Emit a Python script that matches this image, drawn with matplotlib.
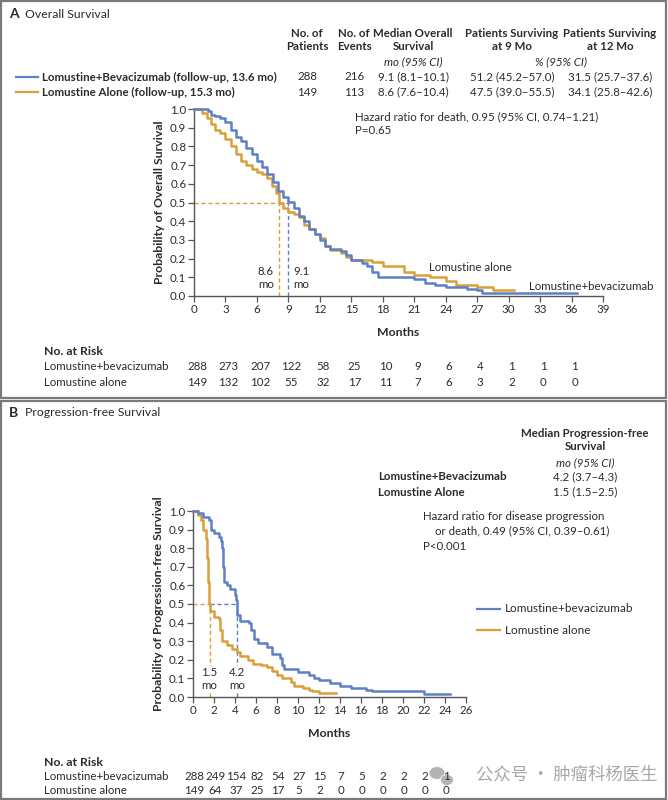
import matplotlib
matplotlib.use('Agg')
import matplotlib.pyplot as plt
import matplotlib.transforms as mtransforms
from matplotlib.patches import Rectangle, Ellipse

plt.rcParams['font.family'] = ['Lato', 'DejaVu Sans']

BLUE = '#5f80c4'
ORANGE = '#d9a03a'
TXT = '#2b2b2b'
AX = '#555555'

# ---- data: overall survival (panel A) ----
os_bev_t = [0, 1.3, 1.6, 2.0, 2.5, 3.0, 3.5, 4.0, 4.5, 5.0, 5.5, 6.0, 6.5, 7.0, 7.5, 8.0, 8.5,
            9.0, 9.5, 10.0, 10.5, 11.0, 11.5, 12.0, 12.5, 13.0, 14.0, 14.5, 15.0, 16.0, 16.5,
            17.0, 17.5, 21.0, 22.0, 23.0, 24.0, 26.0, 27.0, 27.5, 36.5]
os_bev_s = [1.0, 0.99, 0.97, 0.96, 0.95, 0.93, 0.89, 0.85, 0.83, 0.79, 0.76, 0.72, 0.69, 0.65,
            0.61, 0.56, 0.53, 0.505, 0.47, 0.43, 0.40, 0.36, 0.33, 0.30, 0.27, 0.25, 0.24, 0.22,
            0.19, 0.175, 0.16, 0.13, 0.10, 0.09, 0.07, 0.06, 0.05, 0.04, 0.03, 0.015, 0.015]
os_alone_t = [0, 0.8, 1.2, 1.6, 2.0, 2.5, 3.0, 3.5, 4.0, 4.5, 5.0, 5.5, 6.0, 6.5, 7.0, 7.4, 7.8,
              8.1, 8.5, 9.0, 9.5, 10.0, 10.5, 11.0, 11.5, 12.0, 12.5, 13.0, 14.0, 14.5, 15.0,
              17.0, 18.0, 20.0, 21.0, 22.5, 24.0, 25.0, 27.0, 28.5, 30.5]
os_alone_s = [1.0, 0.98, 0.95, 0.92, 0.89, 0.87, 0.84, 0.80, 0.76, 0.72, 0.70, 0.68, 0.665, 0.65,
              0.63, 0.59, 0.55, 0.50, 0.47, 0.45, 0.44, 0.42, 0.38, 0.36, 0.33, 0.31, 0.27, 0.245,
              0.23, 0.21, 0.19, 0.18, 0.16, 0.13, 0.11, 0.10, 0.08, 0.06, 0.05, 0.03, 0.03]
os_median_bev, os_median_alone = 9.0, 8.1

os_risk_months = [0, 3, 6, 9, 12, 15, 18, 21, 24, 27, 30, 33, 36]
os_risk_bev = [288, 273, 207, 122, 58, 25, 10, 9, 6, 4, 1, 1, 1]
os_risk_alone = [149, 132, 102, 55, 32, 17, 11, 7, 6, 3, 2, 0, 0]

os_cols = ['No. of\nPatients', 'No. of\nEvents', 'Median Overall\nSurvival',
           'Patients Surviving\nat 9 Mo', 'Patients Surviving\nat 12 Mo']
os_row_bev = ['288', '216', '9.1 (8.1\u201310.1)', '51.2 (45.2\u201357.0)', '31.5 (25.7\u201337.6)']
os_row_alone = ['149', '113', '8.6 (7.6\u201310.4)', '47.5 (39.0\u201355.5)', '34.1 (25.8\u201342.6)']

# ---- data: progression-free survival (panel B) ----
pfs_bev_t = [0, 0.5, 1.0, 1.5, 1.7, 2.0, 2.5, 2.7, 2.8, 2.9, 3.0, 3.2, 3.5, 4.0, 4.1, 4.2, 4.5,
             5.3, 5.5, 5.8, 6.2, 7.0, 7.5, 8.3, 8.5, 8.7, 10.0, 11.0, 11.5, 12.0, 13.0, 14.0,
             15.0, 16.5, 17.0, 22.0, 24.5]
pfs_bev_s = [1.0, 0.99, 0.97, 0.95, 0.90, 0.88, 0.86, 0.84, 0.80, 0.70, 0.62, 0.60, 0.58, 0.55,
             0.52, 0.44, 0.41, 0.40, 0.36, 0.31, 0.29, 0.27, 0.23, 0.21, 0.17, 0.15, 0.135, 0.12,
             0.10, 0.09, 0.075, 0.06, 0.05, 0.04, 0.03, 0.015, 0.015]
pfs_alone_t = [0, 0.5, 0.8, 1.0, 1.2, 1.3, 1.4, 1.5, 1.6, 2.0, 2.5, 2.6, 2.8, 3.2, 3.7, 4.2, 4.5,
               5.2, 5.7, 6.5, 7.0, 7.5, 8.0, 8.5, 9.3, 9.6, 10.5, 11.0, 11.3, 12.0, 13.6]
pfs_alone_s = [1.0, 0.98, 0.95, 0.90, 0.85, 0.75, 0.62, 0.50, 0.46, 0.43, 0.42, 0.36, 0.30, 0.28,
               0.26, 0.24, 0.22, 0.20, 0.18, 0.17, 0.16, 0.14, 0.12, 0.10, 0.08, 0.06, 0.05, 0.04,
               0.03, 0.02, 0.02]
pfs_median_bev, pfs_median_alone = 4.2, 1.6

pfs_risk_months = [0, 2, 4, 6, 8, 10, 12, 14, 16, 18, 20, 22, 24]
pfs_risk_bev = [288, 249, 154, 82, 54, 27, 15, 7, 5, 2, 2, 2, 1]
pfs_risk_alone = [149, 64, 37, 25, 17, 5, 2, 0, 0, 0, 0, 0, 0]

W, H = 668, 800
fig = plt.figure(figsize=(W / 100, H / 100), dpi=100)
fig.patch.set_facecolor('white')

FS = 8.3  # base text size
BFS = 8.3  # bold header size


def fx(x):
    return x / W


def fy(y):
    return 1 - y / H


def ptext(x, y, s, **kw):
    kw.setdefault('color', TXT)
    kw.setdefault('fontsize', FS)
    kw.setdefault('va', 'center')
    return fig.text(fx(x), fy(y), s, **kw)


def make_axes(x0, y0, x1, y1):
    ax = fig.add_axes([fx(x0), fy(y1), fx(x1 - x0), (y1 - y0) / H])
    for sp in ['top', 'right']:
        ax.spines[sp].set_visible(False)
    for sp in ['left', 'bottom']:
        ax.spines[sp].set_color(AX)
        ax.spines[sp].set_linewidth(1.0)
    ax.tick_params(colors=AX, labelcolor=TXT, labelsize=8.3, length=4, width=0.9, pad=1.5)
    ax.set_ylim(0, 1.0)
    ax.set_yticks([i / 10 for i in range(11)])
    ax.set_yticklabels([f'{i / 10:.1f}' for i in range(11)])
    return ax


# panel borders
fig.add_artist(Rectangle((fx(1), fy(398)), fx(665), 397 / H, transform=fig.transFigure,
                         fill=False, edgecolor='#7a7a7a', linewidth=1.6))
fig.add_artist(Rectangle((fx(1), fy(799)), fx(665), 398 / H, transform=fig.transFigure,
                         fill=False, edgecolor='#7a7a7a', linewidth=1.6))

# ================= Panel A =================
ptext(9, 14, 'A', fontsize=10, fontweight='bold')
ptext(25, 14, 'Overall Survival', fontsize=8.8)

col_x = [307, 354, 413, 512, 610]
for cx, lab in zip(col_x, os_cols):
    ptext(cx, 40, lab, ha='center', fontsize=BFS, fontweight='bold', linespacing=1.25)
ptext(413, 62, 'mo (95% CI)', ha='center', style='italic', fontsize=FS)
ptext(561, 62, '% (95% CI)', ha='center', style='italic', fontsize=FS)

for yy, color, name, row in [(77, BLUE, 'Lomustine+Bevacizumab (follow-up, 13.6 mo)', os_row_bev),
                             (92, ORANGE, 'Lomustine Alone (follow-up, 15.3 mo)', os_row_alone)]:
    fig.add_artist(plt.Line2D([fx(16), fx(38)], [fy(yy), fy(yy)], color=color, lw=1.6,
                              transform=fig.transFigure))
    ptext(42, yy, name, fontsize=BFS, fontweight='bold')
    for cx, val in zip(col_x, row):
        ptext(cx, yy, val, ha='center', fontsize=8.3)

axA = make_axes(194, 109, 603, 296)
axA.set_xlim(0, 39)
axA.set_xticks(range(0, 40, 3))
axA.step(os_alone_t, os_alone_s, where='post', color=ORANGE, lw=1.8, clip_on=False, zorder=3)
axA.step(os_bev_t, os_bev_s, where='post', color=BLUE, lw=1.8, clip_on=False, zorder=3)
axA.plot([0, os_median_alone], [0.5, 0.5], ls=(0, (3, 2)), color=ORANGE, lw=1.0)
axA.plot([os_median_alone, os_median_bev], [0.5, 0.5], ls=(0, (3, 2)), color=BLUE, lw=1.0)
axA.plot([os_median_alone, os_median_alone], [0, 0.5], ls=(0, (3, 2)), color=ORANGE, lw=1.0)
axA.plot([os_median_bev, os_median_bev], [0, 0.5], ls=(0, (3, 2)), color=BLUE, lw=1.0)
axA.text(os_median_alone - 0.5, 0.03, '8.6\nmo', ha='right', va='bottom', fontsize=FS,
         color=TXT, linespacing=1.3)
axA.text(os_median_bev + 0.5, 0.03, '9.1\nmo', ha='left', va='bottom', fontsize=FS,
         color=TXT, linespacing=1.3)
axA.text(22.4, 0.15, 'Lomustine alone', fontsize=FS, color=TXT, va='center')
axA.text(31.9, 0.05, 'Lomustine+bevacizumab', fontsize=FS, color=TXT, va='center')
ptext(355, 117, 'Hazard ratio for death, 0.95 (95% CI, 0.74\u20131.21)', fontsize=FS)
ptext(355, 131, 'P=0.65', fontsize=FS)
axA.set_xlabel('Months', fontsize=8.8, fontweight='bold', color=TXT, labelpad=9)
axA.set_ylabel('Probability of Overall Survival', fontsize=8.8, fontweight='bold', color=TXT,
               labelpad=4)

ptext(44, 352, 'No. at Risk', fontsize=8.8, fontweight='bold')
tA = mtransforms.blended_transform_factory(axA.transData, fig.transFigure)
ptext(44, 367, 'Lomustine+bevacizumab', fontsize=FS)
ptext(44, 382, 'Lomustine alone', fontsize=FS)
for m, a, b in zip(os_risk_months, os_risk_bev, os_risk_alone):
    fig.text(m + 0.3, fy(367), str(a), transform=tA, ha='center', va='center', fontsize=FS, color=TXT)
    fig.text(m + 0.3, fy(382), str(b), transform=tA, ha='center', va='center', fontsize=FS, color=TXT)

# ================= Panel B =================
ptext(9, 413, 'B', fontsize=10, fontweight='bold')
ptext(25, 413, 'Progression-free Survival', fontsize=8.8)
ptext(585, 440, 'Median Progression-free\nSurvival', ha='center', fontsize=BFS, fontweight='bold',
      linespacing=1.25)
ptext(585, 463, 'mo (95% CI)', ha='center', style='italic', fontsize=FS)
ptext(378, 477, 'Lomustine+Bevacizumab', fontsize=BFS, fontweight='bold')
ptext(378, 492, 'Lomustine Alone', fontsize=BFS, fontweight='bold')
ptext(585, 477, '4.2 (3.7\u20134.3)', ha='center', fontsize=8.3)
ptext(585, 492, '1.5 (1.5\u20132.5)', ha='center', fontsize=8.3)
ptext(423, 516, 'Hazard ratio for disease progression', fontsize=FS)
ptext(423, 531, '    or death, 0.49 (95% CI, 0.39\u20130.61)', fontsize=FS)
ptext(423, 546, 'P<0.001', fontsize=FS)

axB = make_axes(193, 511, 466, 697)
axB.set_xlim(0, 26)
axB.set_xticks(range(0, 27, 2))
axB.step(pfs_alone_t, pfs_alone_s, where='post', color=ORANGE, lw=1.8, clip_on=False, zorder=3)
axB.step(pfs_bev_t, pfs_bev_s, where='post', color=BLUE, lw=1.8, clip_on=False, zorder=3)
axB.plot([0, pfs_median_alone], [0.5, 0.5], ls=(0, (3, 2)), color=ORANGE, lw=1.0)
axB.plot([pfs_median_alone, pfs_median_bev], [0.5, 0.5], ls=(0, (3, 2)), color=BLUE, lw=1.0)
axB.plot([pfs_median_alone, pfs_median_alone], [0, 0.5], ls=(0, (3, 2)), color=ORANGE, lw=1.0)
axB.plot([pfs_median_bev, pfs_median_bev], [0, 0.5], ls=(0, (3, 2)), color=BLUE, lw=1.0)
box = dict(boxstyle='square,pad=0.1', facecolor='white', edgecolor='none')
axB.text(pfs_median_alone - 0.1, 0.03, '1.5\nmo', ha='center', va='bottom', fontsize=FS,
         color=TXT, linespacing=1.3, bbox=box, zorder=4)
axB.text(pfs_median_bev, 0.03, '4.2\nmo', ha='center', va='bottom', fontsize=FS,
         color=TXT, linespacing=1.3, bbox=box, zorder=4)
axB.set_xlabel('Months', fontsize=8.8, fontweight='bold', color=TXT, labelpad=9)
axB.set_ylabel('Probability of Progression-free Survival', fontsize=8.8, fontweight='bold',
               color=TXT, labelpad=4)

for yy, color, name in [(609, BLUE, 'Lomustine+bevacizumab'), (630, ORANGE, 'Lomustine alone')]:
    fig.add_artist(plt.Line2D([fx(477), fx(500)], [fy(yy), fy(yy)], color=color, lw=1.6,
                              transform=fig.transFigure))
    ptext(505, yy, name, fontsize=8.5)

ptext(44, 762, 'No. at Risk', fontsize=8.8, fontweight='bold')
ptext(44, 777, 'Lomustine+bevacizumab', fontsize=FS)
ptext(44, 791, 'Lomustine alone', fontsize=FS)
tB = mtransforms.blended_transform_factory(axB.transData, fig.transFigure)
for m, a, b in zip(pfs_risk_months, pfs_risk_bev, pfs_risk_alone):
    fig.text(m + 0.1, fy(777), str(a), transform=tB, ha='center', va='center', fontsize=FS, color=TXT)
    fig.text(m + 0.1, fy(791), str(b), transform=tB, ha='center', va='center', fontsize=FS, color=TXT)

# watermark
for ex, ey, ew, eh in [(437, 773, 16, 13), (447, 780, 13, 11)]:
    fig.add_artist(Ellipse((fx(ex), fy(ey)), ew / W, eh / H, transform=fig.transFigure,
                           facecolor='#9a9a9a', edgecolor='white', lw=0.8, alpha=0.75))
ptext(476, 774, '公众号 · 肿瘤科杨医生', fontsize=12.5, color='#a8a8a8',
      family=['Noto Sans CJK SC', 'DejaVu Sans'])

fig.savefig('out.png', dpi=100, facecolor='white')
print('saved')
